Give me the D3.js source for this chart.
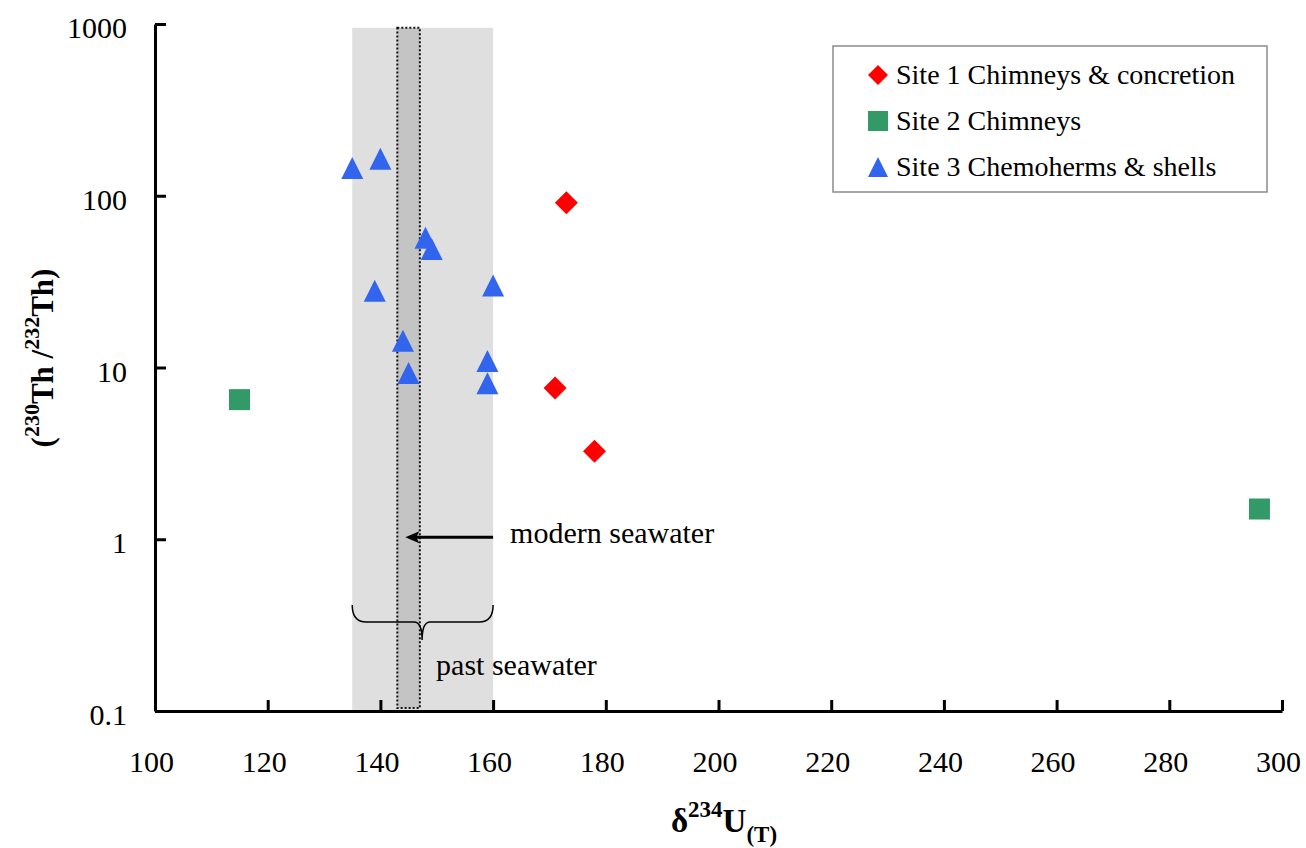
<!doctype html>
<html>
<head>
<title>Th ratio vs d234U</title>
<script src="https://cdn.jsdelivr.net/npm/d3@7"></script>
<style>
  body { margin: 0; background: #fff; }
  text { font-family: "Liberation Serif", "Times New Roman", serif; fill: #000; }
</style>
</head>
<body>
<script>
// data
var xTicks = [100, 120, 140, 160, 180, 200, 220, 240, 260, 280, 300];
var yTicks = [0.1, 1, 10, 100, 1000];
var yTickLabels = ["0.1", "1", "10", "100", "1000"];

var seriesNames = ["Site 1 Chimneys & concretion", "Site 2 Chimneys", "Site 3 Chemoherms & shells"];
var seriesColors = ["#ff0000", "#339966", "#3265ee"];
var seriesShapes = ["diamond", "square", "triangle"];

var site1X = [173, 171, 178];
var site1Y = [91, 7.6, 3.25];
var site2X = [115, 296];
var site2Y = [6.5, 1.5];
var site3X = [135, 140, 148, 149.1, 139, 160, 144, 145, 159, 159];
var site3Y = [145, 164, 57, 49, 28, 30, 14.3, 9.3, 10.9, 8.1];

var pastSeawater = [135, 160];
var modernSeawater = [143, 147];
var braceTip = 147.4;
var bandTop = 950;

var width = 1306, height = 848;

var x = d3.scaleLinear().domain([100, 300]).range([155, 1282]);
var y = d3.scaleLog().domain([0.1, 1000]).range([711, 24]);

var svg = d3.select("body").append("svg")
    .attr("width", width)
    .attr("height", height);

// shaded bands
svg.append("rect")
    .attr("x", x(pastSeawater[0]))
    .attr("y", y(bandTop))
    .attr("width", x(pastSeawater[1]) - x(pastSeawater[0]))
    .attr("height", y(0.1) - y(bandTop))
    .attr("fill", "#dfdfdf");

svg.append("rect")
    .attr("x", x(modernSeawater[0]))
    .attr("y", y(bandTop))
    .attr("width", x(modernSeawater[1]) - x(modernSeawater[0]))
    .attr("height", y(0.104) - y(bandTop))
    .attr("fill", "#c4c4c4")
    .attr("stroke", "#111")
    .attr("stroke-width", 2)
    .attr("stroke-dasharray", "2,2");

// axes
var xAxis = d3.axisBottom(x).tickValues(xTicks).tickSizeInner(-11).tickSizeOuter(0).tickPadding(40);
var yAxis = d3.axisLeft(y).tickValues(yTicks).tickSizeInner(-11).tickSizeOuter(0).tickPadding(28)
    .tickFormat(function(d, i) { return yTickLabels[i]; });

var gx = svg.append("g").attr("transform", "translate(0," + y(0.1) + ")").call(xAxis);
var gy = svg.append("g").attr("transform", "translate(" + x(100) + ",0)").call(yAxis);

[gx, gy].forEach(function(g) {
    g.select(".domain").attr("stroke", "#000").attr("stroke-width", 3);
    g.selectAll(".tick line").attr("stroke", "#000").attr("stroke-width", 3);
    g.selectAll(".tick text").style("font-size", "30px").attr("font-family", null);
});
gx.selectAll(".tick text").attr("dx", -4);
gy.selectAll(".tick text").attr("dy", "0.45em");

// annotations: arrow + brace
svg.append("line")
    .attr("x1", x(pastSeawater[1])).attr("y1", y(1) - 2)
    .attr("x2", x(modernSeawater[0]) + 14).attr("y2", y(1) - 2)
    .attr("stroke", "#000").attr("stroke-width", 3);
svg.append("path")
    .attr("d", "M" + (x(modernSeawater[0]) + 8) + "," + (y(1) - 2) +
               " l14,-6 l-3,6 l3,6 z")
    .attr("fill", "#000");

svg.append("text")
    .attr("x", x(pastSeawater[1]) + 17)
    .attr("y", y(1) + 4)
    .style("font-size", "30px")
    .text("modern seawater");

var bl = x(pastSeawater[0]), br = x(pastSeawater[1]), bm = x(braceTip);
var bt = 605, bh = 622, bp = 640;
svg.append("path")
    .attr("d", "M" + bl + "," + bt +
        " Q" + bl + "," + bh + " " + (bl + 14) + "," + bh +
        " L" + (bm - 8) + "," + bh +
        " Q" + bm + "," + bh + " " + bm + "," + bp +
        " Q" + bm + "," + bh + " " + (bm + 8) + "," + bh +
        " L" + (br - 14) + "," + bh +
        " Q" + br + "," + bh + " " + br + "," + bt)
    .attr("fill", "none")
    .attr("stroke", "#000")
    .attr("stroke-width", 1.5);

svg.append("text")
    .attr("x", bm + 14)
    .attr("y", 675)
    .style("font-size", "30px")
    .text("past seawater");

// markers
function shapePath(shape, s) {
    var h = s / 2;
    if (shape === "diamond") return "M0," + (-h) + "L" + h + ",0L0," + h + "L" + (-h) + ",0Z";
    if (shape === "square") return "M" + (-h) + "," + (-h) + "h" + s + "v" + s + "h" + (-s) + "Z";
    return "M0," + (-h) + "L" + h + "," + h + "L" + (-h) + "," + h + "Z";
}
var markerSize = [23, 21, 22];

var series = [
    { xs: site1X, ys: site1Y },
    { xs: site2X, ys: site2Y },
    { xs: site3X, ys: site3Y }
];

series.forEach(function(s, si) {
    svg.append("g").selectAll("path")
        .data(s.xs)
        .enter()
            .append("path")
            .attr("d", shapePath(seriesShapes[si], markerSize[si]))
            .attr("transform", function(d, i) { return "translate(" + x(d) + "," + y(s.ys[i]) + ")"; })
            .attr("fill", seriesColors[si]);
});

// legend
var legend = svg.append("g");
legend.append("rect")
    .attr("x", 833).attr("y", 46)
    .attr("width", 434).attr("height", 146)
    .attr("fill", "#fff")
    .attr("stroke", "#8a8a8a")
    .attr("stroke-width", 1.5);

var rows = legend.selectAll("g.row")
    .data(seriesNames)
    .enter()
        .append("g")
        .attr("class", "row")
        .attr("transform", function(d, i) { return "translate(878," + (75 + i * 46) + ")"; });

rows.append("path")
    .attr("d", function(d, i) { return shapePath(seriesShapes[i], 20); })
    .attr("fill", function(d, i) { return seriesColors[i]; });

rows.append("text")
    .attr("x", 18)
    .attr("y", 9)
    .style("font-size", "28px")
    .text(function(d) { return d; });

// axis titles
var xt = svg.append("text")
    .attr("x", 724)
    .attr("y", 832)
    .attr("text-anchor", "middle")
    .style("font-size", "33px")
    .style("font-weight", "bold");
xt.append("tspan").text("\u03b4");
xt.append("tspan").attr("dy", -15).style("font-size", "23px").text("234");
xt.append("tspan").attr("dy", 15).text("U");
xt.append("tspan").attr("dy", 10).style("font-size", "23px").text("(T)");

var yt = svg.append("text")
    .attr("transform", "translate(53,358) rotate(-90)")
    .attr("text-anchor", "middle")
    .style("font-size", "31px")
    .style("font-weight", "bold");
yt.append("tspan").text("(");
yt.append("tspan").attr("dy", -14).style("font-size", "22px").text("230");
yt.append("tspan").attr("dy", 14).text("Th /");
yt.append("tspan").attr("dy", -14).style("font-size", "22px").text("232");
yt.append("tspan").attr("dy", 14).text("Th)");
</script>
</body>
</html>
